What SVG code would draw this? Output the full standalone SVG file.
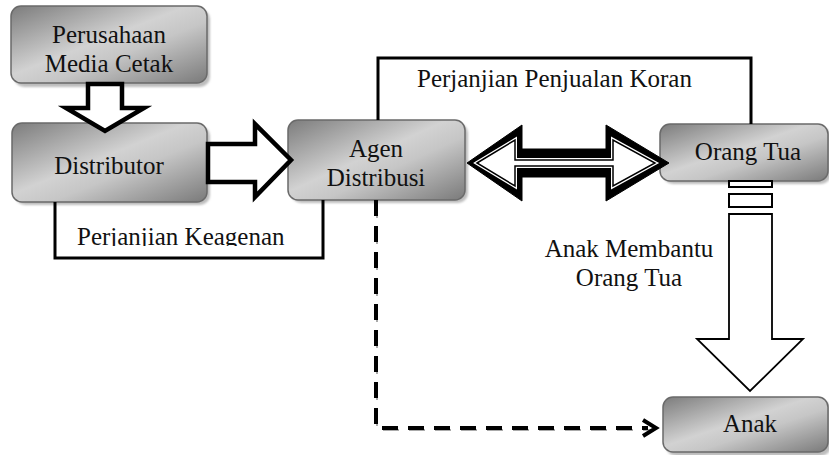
<svg xmlns="http://www.w3.org/2000/svg" width="829" height="455" viewBox="0 0 829 455">
<defs>
<linearGradient id="metal" x1="0" y1="0" x2="1" y2="1">
<stop offset="0" stop-color="#7c7c7c"/>
<stop offset="0.45" stop-color="#d2d2d2"/>
<stop offset="0.6" stop-color="#c6c6c6"/>
<stop offset="1" stop-color="#7a7a7a"/>
</linearGradient>
<filter id="blur" x="-10%" y="-10%" width="120%" height="130%"><feGaussianBlur stdDeviation="1.2"/></filter>
<clipPath id="clipK"><rect x="60" y="220" width="260" height="26"/></clipPath>
</defs>
<style>
.shadow{fill:#bdbdbd;filter:url(#blur)}
.box{fill:url(#metal);stroke:#6a6a6a;stroke-width:1.5}
.t{font-family:"Liberation Serif", "Times New Roman", serif;font-size:25px;fill:#111;text-anchor:middle}
.ln{fill:none;stroke:#000;stroke-width:3}
.blk{fill:#fff;stroke:#000;stroke-width:4.5;stroke-linejoin:miter}
.dash{fill:none;stroke:#000;stroke-width:4;stroke-dasharray:16 10}
.dashs{fill:none;stroke:#aaa;stroke-width:2;stroke-dasharray:16 10}
</style>

<g id="node-perusahaan">
<rect class="shadow" x="14" y="9" width="196" height="78" rx="10"/>
<rect class="box" x="11" y="6" width="196" height="77" rx="10"/>
<text class="t" x="109" y="43">Perusahaan</text>
<text class="t" x="109" y="72">Media Cetak</text>
</g>
<g id="node-distributor">
<rect class="shadow" x="15" y="126" width="195" height="79" rx="10"/>
<rect class="box" x="12" y="123" width="195" height="79" rx="10"/>
<text class="t" x="109" y="174">Distributor</text>
</g>
<g id="node-agen">
<rect class="shadow" x="291" y="123" width="177" height="80" rx="10"/>
<rect class="box" x="288" y="120" width="177" height="80" rx="10"/>
<text class="t" x="376" y="157">Agen</text>
<text class="t" x="376" y="186">Distribusi</text>
</g>
<g id="node-orangtua">
<rect class="shadow" x="663" y="127" width="168" height="57" rx="10"/>
<rect class="box" x="660" y="124" width="168" height="57" rx="10"/>
<text class="t" x="748" y="160">Orang Tua</text>
</g>
<g id="node-anak">
<rect class="shadow" x="666" y="400" width="165" height="56" rx="10"/>
<rect class="box" x="663" y="397" width="165" height="55" rx="10"/>
<text class="t" x="750" y="432">Anak</text>
</g>

<g id="connectors">
<polyline class="ln" points="55,202 55,258 323,258 323,200"/>
<text class="t" x="77" y="245" style="text-anchor:start" clip-path="url(#clipK)">Perjanjian Keagenan</text>
<polyline class="ln" points="378,120 378,58 751,58 751,124"/>
<text class="t" x="417" y="87" style="text-anchor:start">Perjanjian Penjualan Koran</text>
<polygon class="blk" points="88,84 122,84 122,108 144,108 105,131 66,108 88,108"/>
<polygon class="blk" points="208,144 255,144 255,124 291,160 255,197 255,182 208,182"/>
<polygon fill="#000" stroke="#000" stroke-width="1" points="467,163 522,125 522,149 606,149 606,125 669,163 606,201 606,177 522,177 522,201"/>
<polygon fill="#fff" stroke="#fff" stroke-width="4" points="477,163 515,140 515,160 613,160 613,140 655,163 613,186 613,166 515,166 515,186"/>
<polygon fill="#fff" stroke="#000" stroke-width="1.5" points="477,163 515,140 515,160 613,160 613,140 655,163 613,186 613,166 515,166 515,186"/>
<rect x="729" y="181" width="43" height="6" fill="#fff" stroke="#000" stroke-width="2"/>
<rect x="729" y="194" width="43" height="13" fill="#fff" stroke="#000" stroke-width="2"/>
<polygon fill="#fff" stroke="#000" stroke-width="1.8" points="729,214 772,214 772,339 803,339 750,391 697,339 729,339"/>
<text class="t" x="629" y="257">Anak Membantu</text>
<text class="t" x="629" y="286">Orang Tua</text>
<polyline class="dashs" points="377,202 377,430 650,430"/>
<polyline class="dash" points="376,200 376,428 648,428"/>
<polyline fill="none" stroke="#000" stroke-width="4" points="643,420 656,428 643,436"/>
</g>
</svg>
